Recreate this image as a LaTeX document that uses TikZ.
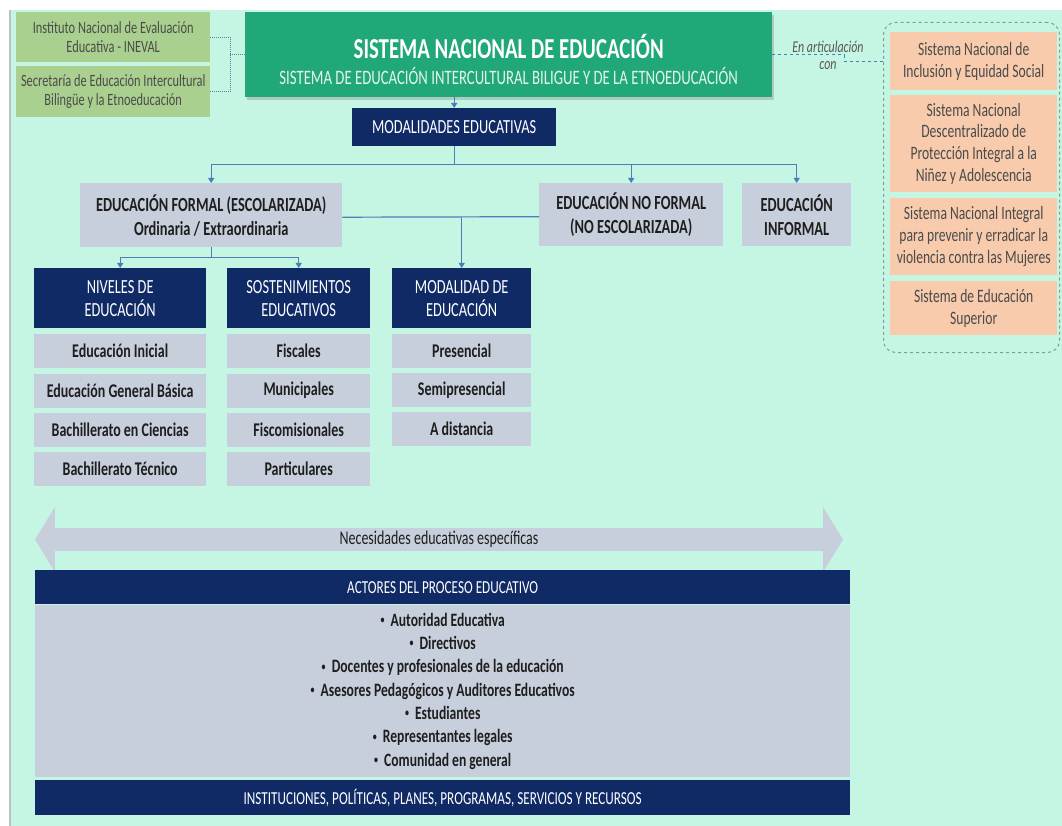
\documentclass[tikz,border=0pt]{standalone}
\usepackage{fontspec}
\setmainfont{Carlito}[FakeStretch=0.72]
\usetikzlibrary{arrows.meta,shadows,shapes.arrows}

\definecolor{mint}{RGB}{197,245,227}
\definecolor{leaf}{RGB}{169,208,142}
\definecolor{sneGreen}{RGB}{33,168,121}
\definecolor{navy}{RGB}{16,42,102}
\definecolor{steel}{RGB}{200,207,220}
\definecolor{peach}{RGB}{248,203,173}
\definecolor{link}{RGB}{74,126,187}
\definecolor{ink}{RGB}{30,30,30}
\definecolor{grpline}{RGB}{125,160,148}

\newcommand{\dotitem}{\raisebox{2.8pt}{\fontsize{11}{11}\selectfont\textbullet}\ \ }

\begin{document}
\begin{tikzpicture}[x=1pt, y=-1pt,
    box/.style={anchor=north west, inner sep=0pt, align=center},
    leafbox/.style={box, fill=leaf, text=ink!80, font=\fontsize{17.2}{18.5}\selectfont},
    peachbox/.style={box, fill=peach, text=ink!80, minimum width=167pt, font=\fontsize{18.9}{21.8}\selectfont},
    navybox/.style={box, fill=navy, text=white, font=\fontsize{20}{23}\selectfont},
    greybox/.style={box, fill=steel, text=ink, font=\bfseries\fontsize{20}{24}\selectfont},
    itembox/.style={greybox, minimum height=34pt, font=\bfseries\fontsize{19.4}{21}\selectfont},
    flowline/.style={draw=link, line width=1.2pt},
    flow/.style={flowline, -{Triangle[width=6pt,length=5pt]}}]
  \useasboundingbox (0,0) rectangle (1062,826);
  \fill[white] (0,0) rectangle (1062,826);
  \fill[mint] (10,10) rectangle (1062,826);
  \draw[black!25, line width=1.5pt] (10,10) -- (10,826);

  % cabecera
  \node[leafbox, minimum width=194pt, minimum height=50pt] (ineval) at (16,12)
    {Instituto Nacional de Evaluación\\Educativa - INEVAL};
  \node[leafbox, minimum width=194pt, minimum height=51pt] (seib) at (16,66)
    {Secretaría de Educación Intercultural\\Bilingüe y la Etnoeducación};
  \node[box, fill=sneGreen, minimum width=527pt, minimum height=85pt,
    drop shadow={shadow xshift=2pt, shadow yshift=-3pt, opacity=0.35}] (sne) at (245,12) {};
  \node[font=\bfseries\fontsize{28.9}{32}\selectfont, text=white] (sneTitle)
    at ([yshift=8.5pt]sne.center) {SISTEMA NACIONAL DE EDUCACIÓN};
  \node[font=\fontsize{20.5}{24}\selectfont, text=white!88!sneGreen] (sneSub)
    at ([yshift=-21pt]sne.center) {SISTEMA DE EDUCACIÓN INTERCULTURAL BILIGUE Y DE LA ETNOEDUCACIÓN};
  \draw[link!70!gray, line width=1pt, densely dotted] (ineval.east) -- ++(20,0) coordinate (dj) |- (seib.east);
  \draw[link!70!gray, line width=1pt, densely dotted] (sne.west) -- (dj |- sne.west);

  % sistemas en articulacion
  \node[box, draw=grpline, dashed, line width=1pt, rounded corners=12pt,
    minimum width=176pt, minimum height=330pt] (grp) at (883,22) {};
  \node[peachbox, minimum height=58pt] (sies) at (890,32) {Sistema Nacional de\\Inclusión y Equidad Social};
  \node[peachbox, minimum height=97pt] (sndp) at (890,95)
    {Sistema Nacional\\Descentralizado de\\Protección Integral a la\\Niñez y Adolescencia};
  \node[peachbox, minimum height=77pt] (snip) at (890,198)
    {Sistema Nacional Integral\\para prevenir y erradicar la\\violencia contra las Mujeres};
  \node[peachbox, minimum height=54pt] (ses) at (890,281) {Sistema de Educación\\Superior};
  \draw[link, line width=1pt, dashed] (sne.east) -- ++(72,0) |- (sies.west -| grp.west);
  \node[font=\itshape\fontsize{16.5}{17}\selectfont, text=ink!75, align=center] (artlbl) at (828,55)
    {En articulación\\con};

  % modalidades
  \node[navybox, minimum width=204pt, minimum height=38pt] (modal) at (352,108) {MODALIDADES EDUCATIVAS};
  \draw[flow] (modal.north |- sne.south) -- (modal.north);
  \node[greybox, minimum width=262pt, minimum height=64pt] (formal) at (80,183)
    {EDUCACIÓN FORMAL (ESCOLARIZADA)\\Ordinaria / Extraordinaria};
  \node[greybox, minimum width=184pt, minimum height=63pt] (noformal) at (539,183)
    {EDUCACIÓN NO FORMAL\\(NO ESCOLARIZADA)};
  \node[greybox, minimum width=109pt, minimum height=63pt] (informal) at (742,183)
    {EDUCACIÓN\\INFORMAL};
  \draw[flowline] (modal.south) -- ++(0,18) coordinate (j1);
  \draw[flow] (j1) -| (formal.north);
  \draw[flow] (j1) -| (informal.north);
  \draw[flow] (j1 -| noformal.north) -- (noformal.north);

  % educacion formal
  \node[navybox, minimum width=172pt, minimum height=60pt] (niveles) at (34,268) {NIVELES DE\\EDUCACIÓN};
  \node[navybox, minimum width=143pt, minimum height=60pt] (sosten) at (227,268) {SOSTENIMIENTOS\\EDUCATIVOS};
  \node[navybox, minimum width=139pt, minimum height=60pt] (modEd) at (392,268) {MODALIDAD DE\\EDUCACIÓN};
  \draw[flowline] ([yshift=-2pt]formal.east) -- ([yshift=-2pt]noformal.west);
  \draw[flow] ([yshift=-2pt]formal.east -| modEd.north) -- (modEd.north);
  \draw[flowline] (formal.south) -- ++(0,10) coordinate (j2);
  \draw[flow] (j2) -| (niveles.north);
  \draw[flow] (j2) -| (sosten.north);

  \foreach \t [count=\i] in {Educación Inicial, Educación General Básica, Bachillerato en Ciencias, Bachillerato Técnico}
    \node[itembox, minimum width=172pt] (niv\i) at (34,{334+(\i-1)*39.3}) {\t};
  \foreach \t [count=\i] in {Fiscales, Municipales, Fiscomisionales, Particulares}
    \node[itembox, minimum width=143pt] (sos\i) at (227,{334+(\i-1)*39.3}) {\t};
  \foreach \t [count=\i] in {Presencial, Semipresencial, A distancia}
    \node[itembox, minimum width=139pt] (mod\i) at (392,{334+(\i-1)*39}) {\t};

  % actores
  \node[double arrow, fill=steel, text=ink, inner sep=0pt, minimum height=808pt, minimum width=65pt,
    double arrow head extend=16pt, double arrow tip angle=117,
    font=\fontsize{19.4}{21}\selectfont] (nee) at (439,539.5) {Necesidades educativas específicas};
  \node[navybox, minimum width=815pt, minimum height=34pt, font=\fontsize{18.3}{20}\selectfont] (actores) at (35,570)
    {ACTORES DEL PROCESO EDUCATIVO};
  \node[greybox, minimum width=815pt, minimum height=172pt, font=\bfseries\fontsize{18.9}{23.3}\selectfont] (lista) at (35,605)
    {\dotitem Autoridad Educativa\\ \dotitem Directivos\\
     \dotitem Docentes y profesionales de la educación\\
     \dotitem Asesores Pedagógicos y Auditores Educativos\\
     \dotitem Estudiantes\\ \dotitem Representantes legales\\ \dotitem Comunidad en general};
  \node[navybox, minimum width=815pt, minimum height=35pt, font=\fontsize{18.3}{20}\selectfont] (inst) at (35,780)
    {INSTITUCIONES, POLÍTICAS, PLANES, PROGRAMAS, SERVICIOS Y RECURSOS};
\end{tikzpicture}
\end{document}
